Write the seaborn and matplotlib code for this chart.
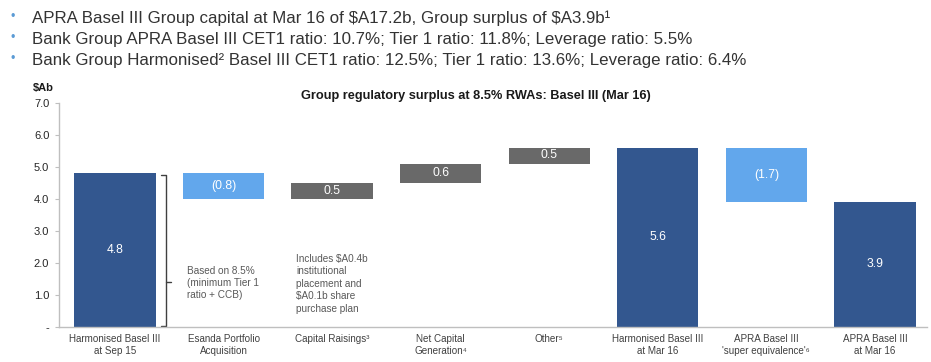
import matplotlib
matplotlib.use("Agg")
import matplotlib.pyplot as plt
import seaborn as sns
import pandas as pd

# ---------------- data ----------------
categories = [
    "Harmonised Basel III\nat Sep 15",
    "Esanda Portfolio\nAcquisition",
    "Capital Raisings³",
    "Net Capital\nGeneration⁴",
    "Other⁵",
    "Harmonised Basel III\nat Mar 16",
    "APRA Basel III\n'super equivalence'⁶",
    "APRA Basel III\nat Mar 16",
]
values = [4.8, -0.8, 0.5, 0.6, 0.5, 5.6, -1.7, 3.9]
is_total = [True, False, False, False, False, True, False, True]
value_labels = ["4.8", "(0.8)", "0.5", "0.6", "0.5", "5.6", "(1.7)", "3.9"]
y_ticks = [0, 1, 2, 3, 4, 5, 6, 7]
y_tick_labels = ["-", "1.0", "2.0", "3.0", "4.0", "5.0", "6.0", "7.0"]
header_lines = [
    "APRA Basel III Group capital at Mar 16 of \\$A17.2b, Group surplus of \\$A3.9b¹",
    "Bank Group APRA Basel III CET1 ratio: 10.7%; Tier 1 ratio: 11.8%; Leverage ratio: 5.5%",
    "Bank Group Harmonised² Basel III CET1 ratio: 12.5%; Tier 1 ratio: 13.6%; Leverage ratio: 6.4%",
]
title = "Group regulatory surplus at 8.5% RWAs: Basel III (Mar 16)"
unit_label = "\\$Ab"
note1 = "Based on 8.5%\n(minimum Tier 1\nratio + CCB)"
note2 = "Includes \\$A0.4b\ninstitutional\nplacement and\n\\$A0.1b share\npurchase plan"

DARK = "#33578F"
LIGHT = "#62A7EC"
GREY = "#696969"

# waterfall geometry derived from values
bottoms, heights, colors = [], [], []
running = 0.0
for v, tot in zip(values, is_total):
    if tot:
        bottoms.append(0.0); heights.append(v); colors.append(DARK); running = v
    else:
        if v >= 0:
            bottoms.append(running); heights.append(v); colors.append(GREY)
        else:
            bottoms.append(running + v); heights.append(-v); colors.append(LIGHT)
        running += v

df = pd.DataFrame({"cat": categories, "height": heights, "bottom": bottoms})

sns.set_style("white")
FAM = ["Liberation Sans", "DejaVu Sans"]
plt.rcParams["font.family"] = FAM

fig = plt.figure(figsize=(9.31, 3.62), dpi=100)
W, H = 931, 362
ax = fig.add_axes([59 / W, (H - 326.7) / H, (927 - 59) / W, (326.7 - 102.7) / H])

sns.barplot(data=df, x="cat", y="height", hue="cat",
            palette=dict(zip(categories, colors)), width=0.75,
            legend=False, errorbar=None, saturation=1, linewidth=0, ax=ax)
for patch, b in zip(ax.patches, bottoms):
    patch.set_y(b)

for i, (b, h, lab) in enumerate(zip(bottoms, heights, value_labels)):
    ax.text(i, b + h / 2, lab, ha="center", va="center", color="white", fontsize=8.7)

ax.set_xlim(-0.516, 7.48)
ax.set_ylim(0, 7)
ax.set_yticks(y_ticks)
ax.set_yticklabels(y_tick_labels)
ax.set_xlabel("")
ax.set_ylabel("")
ax.tick_params(axis="y", length=3, width=0.8, color="#BFBFBF", labelsize=8, labelcolor="#262626", pad=4, left=True)
ax.tick_params(axis="x", length=0, labelsize=7.1, labelcolor="#404040", pad=5)
for lab in ax.get_xticklabels():
    lab.set_linespacing(1.3)
for s in ["top", "right"]:
    ax.spines[s].set_visible(False)
for s in ["left", "bottom"]:
    ax.spines[s].set_color("#BFBFBF")
    ax.spines[s].set_linewidth(1.0)

# bracket next to first bar
bx = 0.47
ax.plot([bx - 0.05, bx, bx, bx - 0.05], [4.75, 4.75, 0.03, 0.03], color="#404040", lw=1.0, clip_on=False)
ax.plot([bx, bx + 0.05], [1.4, 1.4], color="#404040", lw=1.0)
ax.text(0.66, 1.38, note1, ha="left", va="center", fontsize=7.2, color="#595959", linespacing=1.25)
ax.text(1.67, 1.34, note2, ha="left", va="center", fontsize=7.2, color="#595959", linespacing=1.3)

# title & unit
fig.text(476 / W, 1 - 96 / H, title, ha="center", va="center", fontsize=9.2, fontweight="bold", color="#1a1a1a")
fig.text(43 / W, 1 - 88 / H, unit_label, ha="center", va="center", fontsize=8, fontweight="bold", color="#1a1a1a")

# header bullets
for k, line in enumerate(header_lines):
    yb = 1 - (23 + 21 * k) / H
    fig.text(13 / W, 1 - (17 + 21 * k) / H, "•", ha="center", va="center", fontsize=9, color="#5B9BD5")
    fig.text(32 / W, yb, line, ha="left", va="baseline", fontsize=12.2, color="#333333",
             family=["Liberation Sans", "DejaVu Sans"])

fig.savefig("out.png", dpi=100)
